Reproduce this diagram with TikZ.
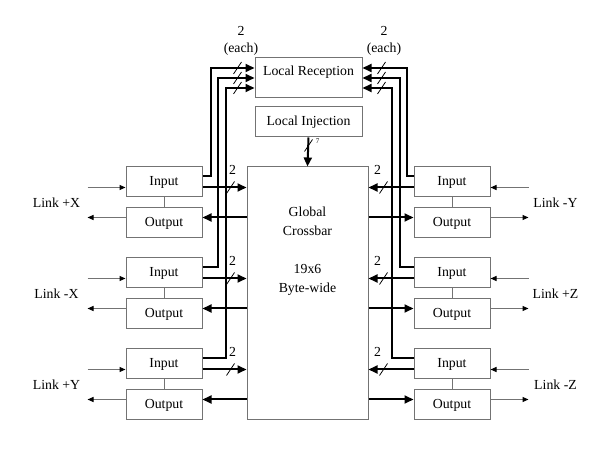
\documentclass[tikz,border=0pt]{standalone}
\usepackage{fontspec}
\setmainfont{Liberation Serif}
\usetikzlibrary{arrows.meta,calc}
\newcommand\dfont{\fontsize{13.8}{19}\selectfont}
\begin{document}
\begin{tikzpicture}[x=1pt,y=-1pt,
  box/.style={draw=black!55, line width=1pt, minimum width=76pt, minimum height=30pt, inner sep=0pt, font=\dfont},
  bus/.style={line width=2pt, black},
  bustip/.style={-{Triangle[length=9pt,width=8pt]}},
  link/.style={draw=black!55, line width=1pt, -{Triangle[length=6pt,width=5pt,color=black]}},
  joint/.style={draw=black!55, line width=1pt},
  slashmark/.style={line width=0.8pt, black},
  txt/.style={font=\dfont, inner sep=0pt}]
\useasboundingbox (0,0) rectangle (598,457);

% crossbar and local boxes
\node[draw=black!55, line width=1pt, minimum width=121pt, minimum height=253pt, inner sep=0pt] (xb) at (307.5,293.5) {};
\node[txt, align=center] (xbt) at (307.5,251.5) {Global\\Crossbar\\[19pt]19x6\\Byte-wide};
\node[box, minimum width=107pt, minimum height=40pt, text depth=15pt] (rec) at (308.5,78) {Local Reception};
\node[box, minimum width=107pt] (inj) at (308.5,122) {Local Injection};

% left ports
\node[box] (in1) at (164,182) {Input};
\node[box] (out1) at (164,223) {Output};
\node[box] (in2) at (164,273) {Input};
\node[box] (out2) at (164,314) {Output};
\node[box] (in3) at (164,364) {Input};
\node[box] (out3) at (164,405) {Output};
% right ports
\node[box] (in4) at (452,182) {Input};
\node[box] (out4) at (452,223) {Output};
\node[box] (in5) at (452,273) {Input};
\node[box] (out5) at (452,314) {Output};
\node[box] (in6) at (452,364) {Input};
\node[box] (out6) at (452,405) {Output};

% link labels
\node[txt] (l1) at ($(in1.west)!0.5!(out1.west)+(-69,0)$) {Link +X};
\node[txt] (l2) at ($(in2.west)!0.5!(out2.west)+(-69,0)$) {Link -X};
\node[txt] (l3) at ($(in3.west)!0.5!(out3.west)+(-69,0)$) {Link +Y};
\node[txt] (l4) at ($(in4.east)!0.5!(out4.east)+(65,0)$) {Link -Y};
\node[txt] (l5) at ($(in5.east)!0.5!(out5.east)+(65,0)$) {Link +Z};
\node[txt] (l6) at ($(in6.east)!0.5!(out6.east)+(65,0)$) {Link -Z};

% left side connections
\foreach \i/\dx/\dy in {1/8/-10, 2/15/0, 3/23/10} {
  \coordinate (a\i) at ($(in\i.north east)+(0,10)$);
  \coordinate (b\i) at ($(in\i.north east)+(0,21)$);
  \coordinate (c\i) at ($(out\i.north east)+(0,10)$);
  \coordinate (r\i) at ($(rec.west)+(0,\dy)$);
  \coordinate (li\i) at ($(in\i.north west)+(-38,21)$);
  \coordinate (lo\i) at ($(out\i.north west)+(-38,10)$);
  \draw[bus,bustip] (a\i) -- ++(\dx,0) |- (r\i);
  \draw[bus,bustip] (b\i) -- (b\i -| xb.west);
  \draw[bus,bustip] (c\i -| xb.west) -- (c\i);
  \draw[slashmark] ($(b\i -| xb.west)+(-20,6)$) -- ++(8,-12);
  \node[txt] at ($(b\i -| xb.west)+(-14,-18)$) {2};
  \draw[slashmark] ($(r\i)+(-21,6)$) -- ++(8,-12);
  \draw[link] (li\i) -- (li\i -| in\i.west);
  \draw[link] (lo\i -| out\i.west) -- (lo\i);
  \draw[joint] (in\i.south) -- (out\i.north);
}
% right side connections
\foreach \i/\dx/\dy in {4/-7/-10, 5/-14/0, 6/-22/10} {
  \coordinate (a\i) at ($(in\i.north west)+(0,10)$);
  \coordinate (b\i) at ($(in\i.north west)+(0,21)$);
  \coordinate (c\i) at ($(out\i.north west)+(0,10)$);
  \coordinate (r\i) at ($(rec.east)+(0,\dy)$);
  \coordinate (li\i) at ($(in\i.north east)+(38,21)$);
  \coordinate (lo\i) at ($(out\i.north east)+(38,10)$);
  \draw[bus,bustip] (a\i) -- ++(\dx,0) |- (r\i);
  \draw[bus,bustip] (b\i) -- (b\i -| xb.east);
  \draw[bus,bustip] (c\i -| xb.east) -- (c\i);
  \draw[slashmark] ($(b\i -| xb.east)+(11,6)$) -- ++(8,-12);
  \node[txt] at ($(b\i -| xb.east)+(9,-18)$) {2};
  \draw[slashmark] ($(r\i)+(15,6)$) -- ++(8,-12);
  \draw[link] (li\i) -- (li\i -| in\i.east);
  \draw[link] (lo\i -| out\i.east) -- (lo\i);
  \draw[joint] (in\i.south) -- (out\i.north);
}

% reception width labels
\node[txt, align=center] (e1) at (241,40.5) {2\\[-2pt](each)};
\node[txt, align=center] (e2) at (384,40.5) {2\\[-2pt](each)};

% injection
\draw[bus,bustip] (inj.south) -- (xb.north);
\draw[slashmark] ($(inj.south)+(-4,14)$) -- ++(8,-12);
\node[font=\fontsize{7}{8}\selectfont, inner sep=0pt] (seven) at ($(inj.south)+(9,4)$) {7};
\end{tikzpicture}
\end{document}
